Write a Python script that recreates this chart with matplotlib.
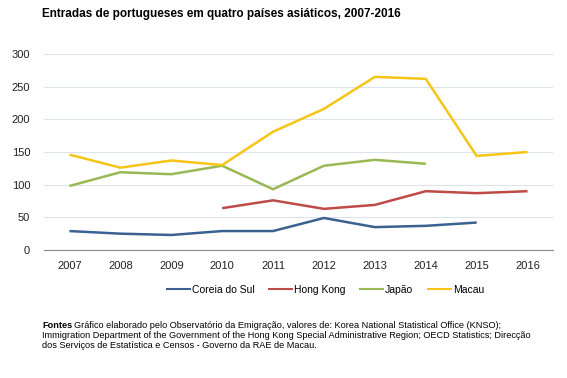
import matplotlib
matplotlib.use("Agg")
import matplotlib.pyplot as plt
import numpy as np

plt.rcParams['font.family'] = ['Liberation Sans', 'DejaVu Sans']

years = [2007, 2008, 2009, 2010, 2011, 2012, 2013, 2014, 2015, 2016]
coreia = [29, 25, 23, 29, 29, 49, 35, 37, 42, None]
hongkong = [None, None, None, 64, 76, 63, 69, 90, 87, 90]
japao = [98, 119, 116, 129, 93, 129, 138, 132, None, None]
macau = [146, 126, 137, 130, 181, 216, 265, 262, 144, 150]

series = [("Coreia do Sul", coreia, "#3b6190"),
          ("Hong Kong", hongkong, "#be4b48"),
          ("Japão", japao, "#98b954"),
          ("Macau", macau, "#f5c518")]

yticks = [0, 50, 100, 150, 200, 250, 300]

fig = plt.figure(figsize=(5.67, 3.78), dpi=100)
ax = fig.add_axes([44/567, 1-250/378, (553-44)/567, (250-54)/378])

x = np.arange(len(years))
for name, vals, col in series:
    v = np.array([np.nan if a is None else a for a in vals], dtype=float)
    ax.plot(x, v, color=col, lw=1.8, label=name, solid_capstyle='butt')

ax.set_xlim(-0.5, len(years) - 0.5)
ax.set_ylim(0, 300)
ax.set_yticks(yticks)
ax.set_xticks(x)
ax.set_xticklabels([str(y) for y in years])
ax.tick_params(axis='both', length=0, labelsize=8, colors='#222222')
ax.tick_params(axis='x', pad=8)
ax.tick_params(axis='y', pad=10)
ax.grid(axis='y', color='#dde3ea', lw=0.8)
ax.set_axisbelow(True)
for s in ['top', 'right', 'left']:
    ax.spines[s].set_visible(False)
ax.spines['bottom'].set_color('#888888')
ax.spines['bottom'].set_linewidth(0.8)

fig.text(42/567, 1-14/378, "Entradas de portugueses em quatro países asiáticos, 2007-2016",
         fontsize=8.5, fontweight='bold', va='center', ha='left')

leg = fig.legend(loc='center', bbox_to_anchor=(325/567, 1-290/378), ncol=4, frameon=False,
                 fontsize=7.5, handlelength=2.4, handletextpad=0.1, columnspacing=1.3)
for l in leg.get_lines():
    l.set_linewidth(1.5)

fs = 6.6
foot1 = "Gráfico elaborado pelo Observatório da Emigração, valores de: Korea National Statistical Office (KNSO);"
fig.text(42/567, 1-325/378, "Fontes", fontsize=fs, fontweight='bold', va='center', ha='left')
fig.text(74/567, 1-325/378, foot1, fontsize=fs, va='center', ha='left')
fig.text(42/567, 1-335/378, "Immigration Department of the Government of the Hong Kong Special Administrative Region; OECD Statistics; Direcção",
         fontsize=fs, va='center', ha='left')
fig.text(42/567, 1-345/378, "dos Serviços de Estatística e Censos - Governo da RAE de Macau.",
         fontsize=fs, va='center', ha='left')

fig.savefig("out.png", dpi=100)
